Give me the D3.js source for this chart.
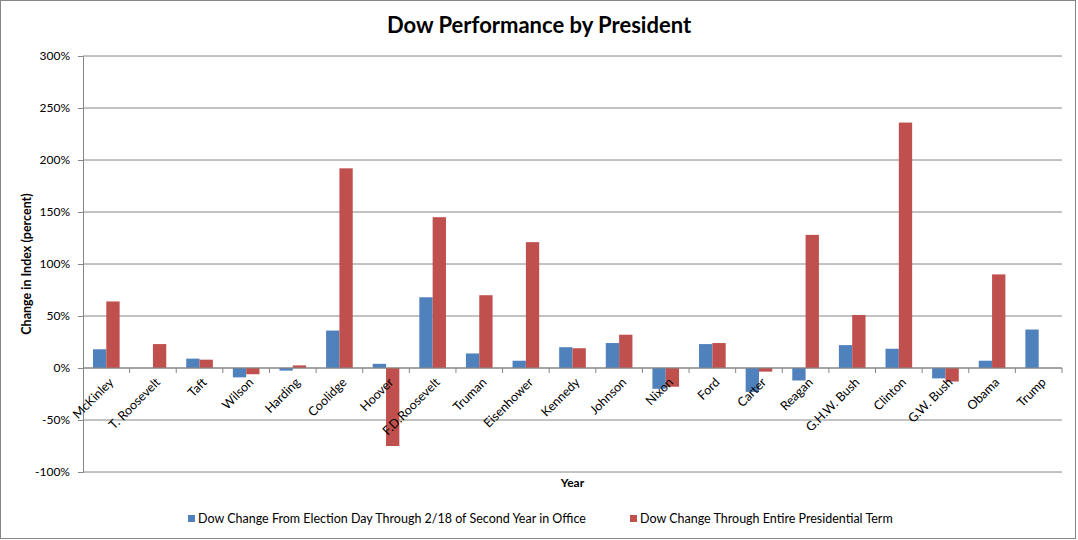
<!DOCTYPE html>
<html>
<head>
<meta charset="utf-8">
<script src="https://cdn.jsdelivr.net/npm/d3@7"></script>
<style>
  body { margin: 0; background: #fff; }
  svg { display: block; font-family: Lato, 'Open Sans', sans-serif; }
</style>
</head>
<body>
<div id="chart"></div>
<script>
const presidents = ['McKinley', 'T. Roosevelt', 'Taft', 'Wilson', 'Harding', 'Coolidge', 'Hoover',
  'F.D.Roosevelt', 'Truman', 'Eisenhower', 'Kennedy', 'Johnson', 'Nixon', 'Ford', 'Carter',
  'Reagan', 'G.H.W. Bush', 'Clinton', 'G.W. Bush', 'Obama', 'Trump']
// percent change, election day through 2/18 of second year
const secondYear = [18, 0, 9, -9, -2.5, 36, 4, 68, 14, 7, 20, 24, -20, 23, -23, -12, 22, 18.5, -10, 7, 37]
// percent change, whole term (Trump has none)
const wholeTerm = [64, 23, 8, -6, 2.5, 192, -75, 145, 70, 121, 19, 32, -18, 24, -3.5, 128, 51, 236, -13, 90, null]
const yTicks = [-100, -50, 0, 50, 100, 150, 200, 250, 300]
const seriesNames = ['Dow Change From Election Day Through 2/18 of Second Year in Office',
  'Dow Change Through Entire Presidential Term']
const colors = ['#4F81BD', '#C0504D']

const WIDTH = 1078
const HEIGHT = 540
const margin = {top: 56, right: 16, bottom: 68, left: 83}
const w = WIDTH - margin.left - margin.right
const h = HEIGHT - margin.top - margin.bottom

const svg = d3.select('#chart').append('svg')
  .attr('width', WIDTH)
  .attr('height', HEIGHT)

// outer border
svg.append('rect')
  .attr('x', 0.5).attr('y', 0.5)
  .attr('width', WIDTH - 3).attr('height', HEIGHT - 2)
  .attr('fill', '#fff')
  .attr('stroke', '#868686')

svg.append('text')
  .attr('x', 539).attr('y', 33)
  .attr('text-anchor', 'middle')
  .style('font-size', '22px')
  .style('font-weight', 'bold')
  .text('Dow Performance by President')

const g = svg.append('g')
  .attr('transform', 'translate(' + margin.left + ',' + margin.top + ')')

const x = d3.scaleBand().domain(presidents).range([0, w])
const y = d3.scaleLinear().domain([-100, 300]).range([h, 0])

// gridlines
g.append('g')
  .selectAll('line')
  .data(yTicks)
  .enter()
  .append('line')
  .attr('x1', 0).attr('x2', w)
  .attr('y1', d => y(d)).attr('y2', d => y(d))
  .attr('stroke', '#868686')

// y axis
const yAxis = g.append('g')
  .call(d3.axisLeft(y).tickValues(yTicks).tickSize(5).tickPadding(8).tickFormat(d => d + '%'))
yAxis.select('.domain').attr('stroke', '#868686')
yAxis.selectAll('.tick line').attr('stroke', '#868686')
yAxis.selectAll('text').style('font-size', '12px').style('font-family', 'Lato').attr('fill', '#000')

// bars
const bw = x.bandwidth() / 3.5
const series = [secondYear, wholeTerm]
series.forEach((vals, s) => {
  g.append('g')
    .selectAll('rect')
    .data(vals.map((v, i) => ({name: presidents[i], v})).filter(d => d.v !== null && d.v !== 0))
    .enter()
    .append('rect')
    .attr('x', d => x(d.name) + x.bandwidth() / 2 - bw + s * bw)
    .attr('y', d => y(Math.max(0, d.v)))
    .attr('width', bw)
    .attr('height', d => Math.abs(y(d.v) - y(0)))
    .attr('fill', colors[s])
})

// category axis on zero line
const xAxis = g.append('g')
  .attr('transform', 'translate(0,' + y(0) + ')')
xAxis.append('line')
  .attr('x1', 0).attr('x2', w)
  .attr('stroke', '#868686')
xAxis.selectAll('.tk')
  .data(presidents)
  .enter()
  .append('line')
  .attr('x1', d => x(d) + x.bandwidth()).attr('x2', d => x(d) + x.bandwidth())
  .attr('y1', 0).attr('y2', 5)
  .attr('stroke', '#868686')
xAxis.selectAll('text')
  .data(presidents)
  .enter()
  .append('text')
  .attr('text-anchor', 'end')
  .attr('transform', d => 'translate(' + (x(d) + x.bandwidth() / 2 + 5) + ',12) rotate(-45)')
  .attr('dy', '0.35em')
  .style('font-size', '12.5px')
  .text(d => d)

// axis titles
svg.append('text')
  .attr('x', margin.left + w / 2).attr('y', 487)
  .attr('text-anchor', 'middle')
  .style('font-size', '12px')
  .style('font-weight', 'bold')
  .text('Year')

svg.append('text')
  .attr('transform', 'translate(31,264) rotate(-90)')
  .attr('text-anchor', 'middle')
  .style('font-size', '12.5px')
  .style('font-weight', 'bold')
  .text('Change in Index (percent)')

// legend
const legendX = [188, 630]
seriesNames.forEach((name, i) => {
  const lg = svg.append('g').attr('transform', 'translate(' + legendX[i] + ',519)')
  lg.append('rect').attr('x', 0).attr('y', -4).attr('width', 7).attr('height', 7).attr('fill', colors[i])
  lg.append('text').attr('x', 10).attr('y', 0).attr('dy', '0.35em')
    .style('font-size', '12.5px').text(name)
})
</script>
</body>
</html>
